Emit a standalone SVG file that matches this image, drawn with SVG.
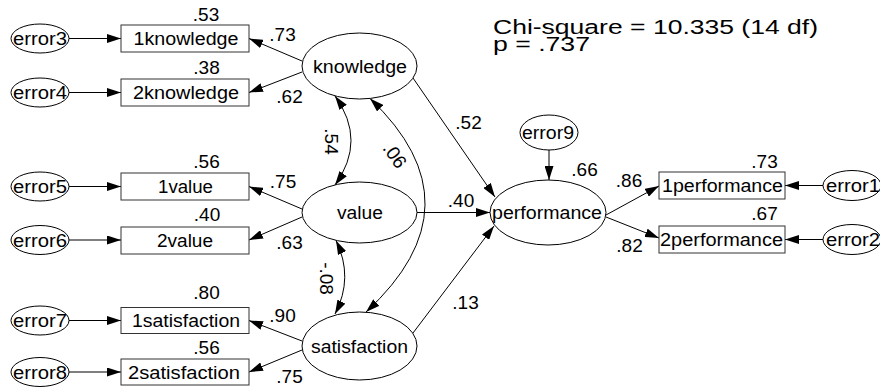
<svg xmlns="http://www.w3.org/2000/svg" width="880" height="389" viewBox="0 0 880 389">
<style>
text{font-family:"Liberation Sans",Arial,sans-serif;fill:#000}
.lbl{font-size:17.5px;text-anchor:middle}
.num{font-size:19px;text-anchor:middle}
.box{fill:#fff;stroke:#333;stroke-width:1}
.ell{fill:#fff;stroke:#000;stroke-width:1}
.ln{fill:none;stroke:#000;stroke-width:1;marker-end:url(#ah)}
.cv{fill:none;stroke:#000;stroke-width:1;marker-start:url(#ah);marker-end:url(#ah)}
.chi{font-size:20.5px}
</style>
<defs>
<marker id="ah" markerUnits="userSpaceOnUse" viewBox="0 0 14 9" markerWidth="14" markerHeight="9" refX="14" refY="4.5" orient="auto-start-reverse">
<path d="M0,0 L14,4.5 L0,9 Z" fill="#000"/>
</marker>
</defs>
<rect width="880" height="389" fill="#fff"/>

<g id="connectors">
<path class="ln" d="M69,38.5 H121"/>
<path class="ln" d="M69,92.5 H121"/>
<path class="ln" d="M69,186.5 H121"/>
<path class="ln" d="M69,240 H121"/>
<path class="ln" d="M69,320.5 H121"/>
<path class="ln" d="M69,372 H121"/>
<path class="ln" d="M302,61 L249,38.5"/>
<path class="ln" d="M302,72 L249,92.5"/>
<path class="ln" d="M302,209 L249,186.5"/>
<path class="ln" d="M302,217 L249,240"/>
<path class="ln" d="M302,341 L249,320.5"/>
<path class="ln" d="M302,350 L249,372"/>
<path class="ln" d="M413,78 L495,197"/>
<path class="ln" d="M417,212.5 L490,212.5"/>
<path class="ln" d="M413,333 L494,226"/>
<path class="ln" d="M549,150 L549,180"/>
<path class="ln" d="M606,215 L659,186"/>
<path class="ln" d="M606,217 L659,238"/>
<path class="ln" d="M823,185.5 L785,185.5"/>
<path class="ln" d="M823,239.5 L785,239.5"/>
<path class="cv" d="M335,96 Q367,140.5 335,185"/>
<path class="cv" d="M370,98.5 Q482,205 366,312"/>
<path class="cv" d="M336,240.5 Q354,277.5 335,314"/>
</g>

<g id="error3"><ellipse class="ell" cx="40" cy="38.5" rx="29" ry="14.5"/><text class="lbl" x="40" y="45" textLength="54" lengthAdjust="spacingAndGlyphs">error3</text></g>
<g id="error4"><ellipse class="ell" cx="40" cy="92.5" rx="29" ry="14.5"/><text class="lbl" x="40" y="99" textLength="54" lengthAdjust="spacingAndGlyphs">error4</text></g>
<g id="error5"><ellipse class="ell" cx="40" cy="186.5" rx="29" ry="14.5"/><text class="lbl" x="40" y="193" textLength="54" lengthAdjust="spacingAndGlyphs">error5</text></g>
<g id="error6"><ellipse class="ell" cx="40" cy="240" rx="29" ry="14.5"/><text class="lbl" x="40" y="246.5" textLength="54" lengthAdjust="spacingAndGlyphs">error6</text></g>
<g id="error7"><ellipse class="ell" cx="40" cy="320.5" rx="29" ry="14.5"/><text class="lbl" x="40" y="327" textLength="54" lengthAdjust="spacingAndGlyphs">error7</text></g>
<g id="error8"><ellipse class="ell" cx="40" cy="372" rx="29" ry="14.5"/><text class="lbl" x="40" y="378.5" textLength="54" lengthAdjust="spacingAndGlyphs">error8</text></g>

<g id="k1"><rect class="box" x="121" y="25" width="128" height="27"/><text class="lbl" x="186" y="45" textLength="105" lengthAdjust="spacingAndGlyphs">1knowledge</text></g>
<g id="k2"><rect class="box" x="121" y="79" width="128" height="27"/><text class="lbl" x="186" y="99" textLength="106" lengthAdjust="spacingAndGlyphs">2knowledge</text></g>
<g id="v1"><rect class="box" x="121" y="173" width="128" height="27"/><text class="lbl" x="185.5" y="193" textLength="55" lengthAdjust="spacingAndGlyphs">1value</text></g>
<g id="v2"><rect class="box" x="121" y="227" width="128" height="27"/><text class="lbl" x="185" y="246.5" textLength="56" lengthAdjust="spacingAndGlyphs">2value</text></g>
<g id="s1"><rect class="box" x="121" y="307.5" width="128" height="26"/><text class="lbl" x="186" y="327" textLength="108" lengthAdjust="spacingAndGlyphs">1satisfaction</text></g>
<g id="s2"><rect class="box" x="121" y="359" width="128" height="26"/><text class="lbl" x="184" y="378.5" textLength="112" lengthAdjust="spacingAndGlyphs">2satisfaction</text></g>

<g id="knowledge"><ellipse class="ell" cx="359.5" cy="66" rx="57.5" ry="33"/><text class="lbl" x="360" y="73" textLength="94" lengthAdjust="spacingAndGlyphs">knowledge</text></g>
<g id="value"><ellipse class="ell" cx="359.5" cy="212.5" rx="57.5" ry="30.5"/><text class="lbl" x="360" y="219" textLength="46" lengthAdjust="spacingAndGlyphs">value</text></g>
<g id="satisfaction"><ellipse class="ell" cx="359.5" cy="346" rx="57.5" ry="34"/><text class="lbl" x="359.5" y="352.5" textLength="97" lengthAdjust="spacingAndGlyphs">satisfaction</text></g>
<g id="performance"><ellipse class="ell" cx="548" cy="212.5" rx="58" ry="32.5"/><text class="lbl" x="547" y="219" textLength="110" lengthAdjust="spacingAndGlyphs">performance</text></g>
<g id="error9"><ellipse class="ell" cx="549" cy="132.5" rx="29" ry="17.5"/><text class="lbl" x="548" y="139" textLength="52" lengthAdjust="spacingAndGlyphs">error9</text></g>

<g id="p1"><rect class="box" x="659" y="172" width="126" height="27"/><text class="lbl" x="722.5" y="192" textLength="121" lengthAdjust="spacingAndGlyphs">1performance</text></g>
<g id="p2"><rect class="box" x="659" y="226" width="126" height="27"/><text class="lbl" x="721.5" y="246" textLength="123" lengthAdjust="spacingAndGlyphs">2performance</text></g>
<g id="error1"><ellipse class="ell" cx="852" cy="185.5" rx="29" ry="15"/><text class="lbl" x="853" y="192" textLength="54" lengthAdjust="spacingAndGlyphs">error1</text></g>
<g id="error2"><ellipse class="ell" cx="852" cy="239.5" rx="29" ry="15"/><text class="lbl" x="853" y="246" textLength="54" lengthAdjust="spacingAndGlyphs">error2</text></g>

<g id="labels">
<text class="num" x="206" y="21">.53</text>
<text class="num" x="282.5" y="40.5">.73</text>
<text class="num" x="206.5" y="74">.38</text>
<text class="num" x="289.5" y="103">.62</text>
<text class="num" x="206.5" y="168">.56</text>
<text class="num" x="283" y="188">.75</text>
<text class="num" x="207" y="221">.40</text>
<text class="num" x="289.5" y="249">.63</text>
<text class="num" x="206.5" y="299">.80</text>
<text class="num" x="282.5" y="322">.90</text>
<text class="num" x="206.5" y="354">.56</text>
<text class="num" x="289.5" y="383">.75</text>
<text class="num" x="468.5" y="129">.52</text>
<text class="num" x="461" y="207">.40</text>
<text class="num" x="465.5" y="309">.13</text>
<text class="num" x="584.5" y="176">.66</text>
<text class="num" x="629" y="187">.86</text>
<text class="num" x="629.5" y="252">.82</text>
<text class="num" x="764.5" y="168">.73</text>
<text class="num" x="764.5" y="220">.67</text>
<text class="num" transform="translate(325,141.5) rotate(90)">.54</text>
<text class="num" transform="translate(389.5,159) rotate(55)">.06</text>
<text class="num" transform="translate(320,278.5) rotate(90)">-.08</text>
<text class="chi" x="493" y="34" textLength="325" lengthAdjust="spacingAndGlyphs">Chi-square = 10.335 (14 df)</text>
<text class="chi" x="493" y="50.5" textLength="97" lengthAdjust="spacingAndGlyphs">p = .737</text>
</g>
</svg>
